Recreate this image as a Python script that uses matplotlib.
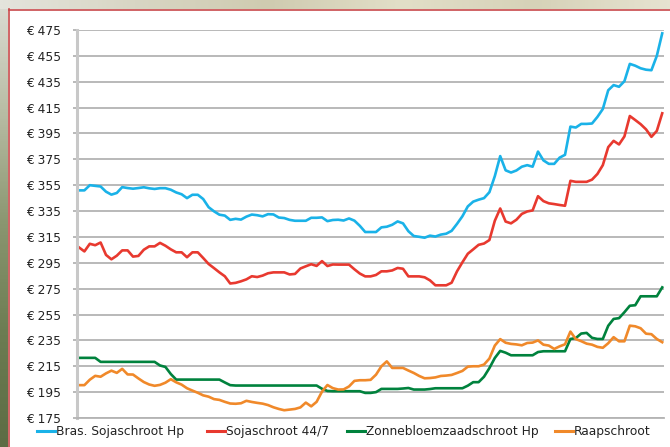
import matplotlib
matplotlib.use("Agg")
import matplotlib.pyplot as plt
import numpy as np
from matplotlib.colors import LinearSegmentedColormap
from matplotlib.lines import Line2D

# ---- data (weekly prices) ----
weeks = list(range(109))

bras_soja = [351, 351, 355, 354.5, 354, 350, 347.7, 349, 353.5, 352.8,
             352.3, 352.8, 353.4, 352.6, 352.1, 352.7, 352.7, 351.5, 349.4, 348,
             345, 347.6, 347.6, 344.3, 338, 334.8, 332.2, 331.5, 328.2, 329,
             328.4, 330.7, 332.3, 331.8, 330.9, 332.6, 332.4, 330, 329.6, 328.2,
             327.5, 327.5, 327.5, 329.8, 329.8, 330.1, 327.2, 328.1, 328.3, 327.7,
             329.3, 327.6, 323.6, 318.8, 318.8, 318.8, 322.4, 322.9, 324.4, 327,
             325.5, 319.4, 315.7, 315.1, 314.4, 316, 315.3, 316.8, 317.5, 319.7,
             325.1, 331, 338.6, 342.3, 343.8, 345, 349.6, 362, 377.5, 366.5,
             364.8, 366.4, 369.3, 370.5, 369.3, 381, 374.2, 371.5, 371.5, 376.3,
             378.5, 400.3, 399.6, 402.4, 402.4, 402.7, 407.8, 413.9, 428.4, 432.4,
             431.1, 435.4, 448.8, 447.4, 445.4, 444.3, 443.9, 455, 472.4]

soja_44 = [306.9, 303.8, 309.7, 308.6, 310.7, 301.1, 297.7, 300.5, 304.6, 304.6,
           299.8, 300.3, 305.1, 307.7, 307.7, 310.4, 308.2, 305.4, 303.1, 303.1,
           299.3, 303.1, 303.1, 298.7, 294.1, 290.9, 287.6, 284.6, 279, 279.5,
           280.7, 282.2, 284.6, 284, 285.1, 286.9, 287.6, 287.6, 287.6, 286,
           286.4, 290.6, 292.3, 293.9, 292.6, 296.3, 292.5, 293.7, 293.6, 293.6,
           293.6, 290, 286.7, 284.5, 284.5, 285.6, 288.4, 288.4, 289.1, 291,
           290.4, 284.5, 284.5, 284.5, 283.8, 281.4, 277.6, 277.6, 277.6, 279.6,
           288.4, 295.4, 302, 305.4, 308.9, 309.9, 312.6, 327.5, 337, 326.9,
           325.5, 328.3, 332.8, 334.7, 335.5, 346.5, 342.7, 341, 340.4, 339.7,
           339.1, 358.4, 357.6, 357.6, 357.6, 359.3, 363.7, 370.5, 384.4, 389.3,
           386.5, 392.7, 408.5, 405.4, 402.2, 398.2, 392.4, 397, 410.6]

zonnebloem = [221.5, 221.5, 221.5, 221.5, 218.4, 218.4, 218.4, 218.4, 218.4, 218.4,
              218.4, 218.4, 218.4, 218.4, 218.4, 215.6, 214.5, 209, 204.7, 204.7,
              204.7, 204.7, 204.7, 204.7, 204.7, 204.7, 204.7, 202.5, 200.4, 200.1,
              200.1, 200.1, 200.1, 200.1, 200.1, 200.1, 200.1, 200.1, 200.1, 200.1,
              200.1, 200.1, 200.1, 200.1, 200.1, 197.6, 195.9, 195.7, 195.7, 195.7,
              195.7, 195.7, 195.7, 194.4, 194.4, 195, 197.5, 197.5, 197.5, 197.5,
              197.8, 198.2, 197, 197, 197, 197.4, 198, 198, 198, 198,
              198, 198, 200, 202.7, 202.7, 206.9, 213.6, 221.4, 226.9, 225.5,
              223.5, 223.5, 223.5, 223.5, 223.5, 226, 226.6, 226.6, 226.6, 226.6,
              226.6, 236.1, 236.8, 240.3, 240.8, 237, 236.1, 236.1, 246.3, 251.6,
              252.2, 256.8, 261.8, 262.2, 269.1, 269.1, 269.1, 269.1, 276]

raap = [200.4, 200.4, 204.6, 207.6, 206.9, 209.5, 211.6, 209.9, 213, 208.7,
        208.6, 205.6, 202.8, 200.9, 199.9, 200.6, 202.3, 205, 202.6, 200.8,
        198, 196.2, 194.5, 192.5, 191.5, 189.6, 189, 187.5, 186.2, 186,
        186.4, 188.3, 187.4, 186.7, 186.1, 185, 183.3, 182, 181, 181.5,
        182, 183.2, 186.9, 184, 187.5, 195.4, 200.5, 198.1, 197, 197.1,
        199.4, 203.7, 204.2, 204.2, 204.5, 208.5, 215, 218.8, 213.7, 213.7,
        213.7, 211.7, 209.8, 207.5, 205.7, 205.9, 206.4, 207.5, 207.8, 208.3,
        209.8, 211.4, 214.7, 215, 215, 216.3, 221, 231, 236, 233.2,
        232.3, 231.9, 231.2, 233, 233.3, 235, 231.7, 231, 228.4, 230.4,
        232, 241.8, 236, 234.4, 232.5, 231.7, 230, 229.3, 232.8, 237.5,
        234.3, 234.3, 246.4, 245.9, 244.4, 240.2, 239.8, 236.1, 233.6]

series_names = ["Bras. Sojaschroot Hp", "Sojaschroot 44/7",
                "Zonnebloemzaadschroot Hp", "Raapschroot"]
series_colors = ["#1ab2e8", "#e8392f", "#00823d", "#f0892a"]
yticks = list(range(175, 476, 20))
ytick_labels = ["€ %d" % v for v in yticks]

# ---- figure ----
W, H = 670, 447
fig = plt.figure(figsize=(W / 100, H / 100), dpi=100, facecolor="white")
plt.rcParams["font.family"] = ["DejaVu Sans"]

# decorative background strips (top and left)
left_cmap = LinearSegmentedColormap.from_list(
    "l", ["#dcdcd4", "#b8bca4", "#8a9670", "#6c7c52", "#5c6c44"])
axl = fig.add_axes([0, 0, 8 / W, 1])
axl.imshow(np.linspace(0, 1, 200).reshape(-1, 1), aspect="auto", cmap=left_cmap)
axl.set_axis_off()
top_cmap = LinearSegmentedColormap.from_list(
    "t", ["#e4e4dc", "#d8d6c4", "#cfcbb0", "#e2dfc8", "#d6d2b8", "#e6e3d0"])
axt = fig.add_axes([0, 1 - 9 / H, 1, 9 / H])
axt.imshow(np.linspace(0, 1, 300).reshape(1, -1), aspect="auto", cmap=top_cmap)
axt.set_axis_off()
fig.add_artist(Line2D([8.5 / W, 8.5 / W], [0, 1 - 9 / H], transform=fig.transFigure,
                      color="#c8484a", lw=1.2))
fig.add_artist(Line2D([8.5 / W, 1], [1 - 9.5 / H, 1 - 9.5 / H], transform=fig.transFigure,
                      color="#c8484a", lw=1.2))

# ---- main axes ----
ax = fig.add_axes([77 / W, 1 - 418 / H, (664 - 77) / W, 388 / H])
ax.set_facecolor("white")
handles = []
for name, vals, col in zip(series_names, [bras_soja, soja_44, zonnebloem, raap], series_colors):
    h, = ax.plot(weeks, vals, color=col, lw=1.9, label=name, solid_joinstyle="round")
    handles.append(h)

ax.set_ylim(175, 475)
ax.set_xlim(-0.37, 108.33)
ax.set_yticks(yticks)
ax.set_yticklabels(ytick_labels, fontsize=8.8, color="#222222")
ax.set_xticks([])
ax.yaxis.grid(True, color="#a6a6a6", lw=1.1)
ax.set_axisbelow(True)
ax.tick_params(axis="y", length=3, width=1.1, color="#a6a6a6", pad=8.5)
for s in ["top", "right"]:
    ax.spines[s].set_visible(False)
ax.spines["left"].set_color("#c8c8c8")
ax.spines["left"].set_linewidth(2.2)
ax.spines["bottom"].set_color("#b4b4b4")
ax.spines["bottom"].set_linewidth(1.3)

# legend entries placed like the original (evenly laid out by the source app)
legend_x_px = [37, 207, 347, 555]
for h, name, xp in zip(handles, series_names, legend_x_px):
    leg = fig.legend([h], [name], loc="center left", bbox_to_anchor=(xp / W, 1 - 432 / H),
                     frameon=False, fontsize=8.8, handlelength=1.5, handletextpad=0.05,
                     borderpad=0, borderaxespad=0)
    for line in leg.get_lines():
        line.set_linewidth(2.2)
    for t in leg.get_texts():
        t.set_color("#222222")

fig.savefig("out.png", dpi=100, facecolor="white")
